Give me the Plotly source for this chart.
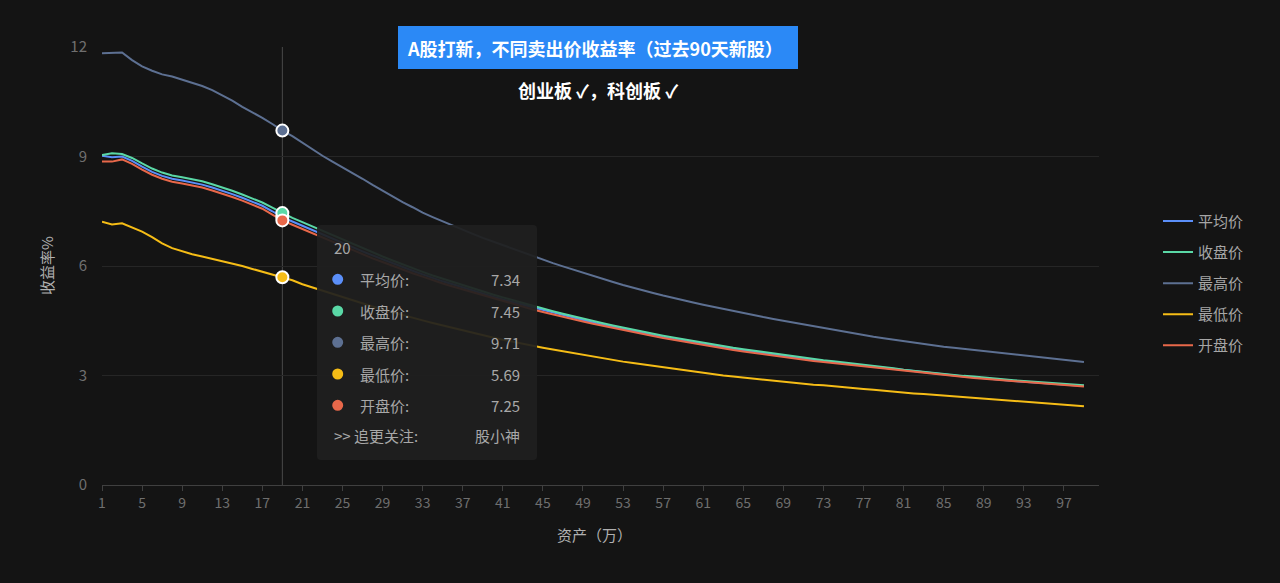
import plotly.graph_objects as go

# ---------------- data ----------------
assets = list(range(1, 100))  # 资产（万）categories 1..99

avg_price = [9.02, 8.98, 9.00, 8.88, 8.72, 8.58, 8.47, 8.39, 8.34, 8.29,
             8.23, 8.15, 8.07, 7.97, 7.87, 7.76, 7.65, 7.50, 7.34, 7.22,
             7.10, 6.98, 6.86, 6.75, 6.63, 6.51, 6.40, 6.29, 6.18, 6.07,
             5.96, 5.87, 5.77, 5.67, 5.58, 5.50, 5.41, 5.32, 5.24, 5.16,
             5.08, 5.01, 4.93, 4.85, 4.78, 4.71, 4.64, 4.58, 4.51, 4.45,
             4.39, 4.33, 4.27, 4.21, 4.15, 4.10, 4.05, 4.00, 3.95, 3.90,
             3.86, 3.81, 3.77, 3.73, 3.69, 3.65, 3.61, 3.57, 3.53, 3.49,
             3.45, 3.42, 3.39, 3.36, 3.33, 3.30, 3.27, 3.24, 3.21, 3.18,
             3.14, 3.11, 3.08, 3.05, 3.02, 3.00, 2.97, 2.95, 2.92, 2.90,
             2.87, 2.85, 2.83, 2.81, 2.79, 2.77, 2.75, 2.73, 2.71]

close_price = [9.04, 9.09, 9.07, 8.96, 8.81, 8.67, 8.56, 8.48, 8.43, 8.38,
               8.32, 8.24, 8.16, 8.06, 7.96, 7.85, 7.74, 7.60, 7.45, 7.32,
               7.20, 7.08, 6.96, 6.84, 6.72, 6.60, 6.48, 6.37, 6.26, 6.15,
               6.04, 5.94, 5.84, 5.74, 5.65, 5.56, 5.47, 5.38, 5.30, 5.22,
               5.14, 5.06, 4.98, 4.90, 4.83, 4.76, 4.69, 4.62, 4.55, 4.49,
               4.43, 4.37, 4.31, 4.25, 4.19, 4.14, 4.09, 4.04, 3.99, 3.94,
               3.89, 3.84, 3.80, 3.76, 3.72, 3.68, 3.64, 3.60, 3.56, 3.52,
               3.48, 3.45, 3.42, 3.39, 3.36, 3.33, 3.30, 3.27, 3.24, 3.20,
               3.16, 3.13, 3.10, 3.07, 3.04, 3.02, 2.99, 2.97, 2.94, 2.92,
               2.89, 2.87, 2.85, 2.83, 2.81, 2.79, 2.77, 2.75, 2.73]

high_price = [11.83, 11.85, 11.85, 11.64, 11.47, 11.35, 11.25, 11.19, 11.11, 11.03,
              10.93, 10.82, 10.68, 10.53, 10.36, 10.22, 10.06, 9.89, 9.71, 9.56,
              9.38, 9.19, 9.02, 8.86, 8.71, 8.55, 8.39, 8.22, 8.06, 7.90,
              7.75, 7.61, 7.46, 7.34, 7.22, 7.10, 6.99, 6.88, 6.77, 6.67,
              6.56, 6.46, 6.36, 6.26, 6.17, 6.08, 5.99, 5.90, 5.81, 5.72,
              5.64, 5.56, 5.48, 5.40, 5.33, 5.26, 5.19, 5.12, 5.06, 5.00,
              4.94, 4.88, 4.82, 4.76, 4.71, 4.65, 4.60, 4.55, 4.50, 4.45,
              4.40, 4.35, 4.29, 4.24, 4.19, 4.15, 4.11, 4.06, 4.02, 3.98,
              3.94, 3.89, 3.85, 3.82, 3.79, 3.76, 3.73, 3.70, 3.67, 3.64,
              3.61, 3.58, 3.55, 3.52, 3.49, 3.46, 3.43, 3.40, 3.37]

low_price = [7.21, 7.14, 7.17, 7.06, 6.94, 6.79, 6.62, 6.49, 6.40, 6.32,
             6.26, 6.20, 6.13, 6.07, 6.00, 5.92, 5.84, 5.76, 5.69, 5.61,
             5.50, 5.41, 5.32, 5.23, 5.14, 5.05, 4.97, 4.89, 4.81, 4.73,
             4.65, 4.58, 4.51, 4.44, 4.37, 4.30, 4.23, 4.16, 4.10, 4.04,
             3.98, 3.92, 3.86, 3.81, 3.76, 3.71, 3.66, 3.61, 3.56, 3.51,
             3.47, 3.42, 3.38, 3.34, 3.30, 3.26, 3.22, 3.18, 3.14, 3.10,
             3.06, 3.03, 3.00, 2.97, 2.94, 2.91, 2.88, 2.85, 2.83, 2.80,
             2.78, 2.75, 2.73, 2.70, 2.68, 2.65, 2.63, 2.61, 2.58, 2.56,
             2.53, 2.51, 2.49, 2.47, 2.45, 2.43, 2.41, 2.39, 2.37, 2.35,
             2.32, 2.30, 2.28, 2.26, 2.24, 2.22, 2.20, 2.18, 2.16]

open_price = [8.86, 8.86, 8.92, 8.80, 8.64, 8.50, 8.39, 8.31, 8.26, 8.21,
              8.15, 8.07, 7.99, 7.89, 7.79, 7.68, 7.57, 7.41, 7.25, 7.13,
              7.01, 6.90, 6.78, 6.67, 6.55, 6.44, 6.32, 6.21, 6.11, 6.00,
              5.90, 5.80, 5.71, 5.61, 5.52, 5.44, 5.36, 5.27, 5.19, 5.12,
              5.04, 4.97, 4.89, 4.81, 4.74, 4.67, 4.61, 4.54, 4.48, 4.42,
              4.36, 4.30, 4.24, 4.18, 4.13, 4.08, 4.03, 3.98, 3.93, 3.88,
              3.83, 3.79, 3.75, 3.70, 3.66, 3.62, 3.58, 3.54, 3.50, 3.47,
              3.43, 3.40, 3.37, 3.34, 3.31, 3.28, 3.25, 3.22, 3.19, 3.16,
              3.12, 3.09, 3.06, 3.03, 3.00, 2.98, 2.95, 2.93, 2.91, 2.89,
              2.86, 2.84, 2.82, 2.80, 2.78, 2.76, 2.74, 2.72, 2.70]

series_names = ["平均价", "收盘价", "最高价", "最低价", "开盘价"]
series_values = [avg_price, close_price, high_price, low_price, open_price]
series_colors = ["#5B8FF9", "#5AD8A6", "#5D7092", "#F6BD16", "#E8684A"]

x_tick_vals = [1, 5, 9, 13, 17, 21, 25, 29, 33, 37, 41, 45, 49, 53, 57,
               61, 65, 69, 73, 77, 81, 85, 89, 93, 97]
y_tick_vals = [0, 3, 6, 9, 12]

# hovered point (tooltip)
hover_x = 19
hover_label = "20"
hover_values = [7.34, 7.45, 9.71, 5.69, 7.25]
footer_label = ">> 追更关注:"
footer_value = "股小神"

title_text = "A股打新，不同卖出价收益率（过去90天新股）"
subtitle_text = "创业板 ✓，科创板 ✓"
x_title = "资产（万）"
y_title = "收益率%"

# ---------------- figure ----------------
FONT = "Noto Sans CJK SC, PingFang SC, sans-serif"
BG = "#141414"
W, H = 1280, 583
L, R, T, B = 102, 181, 47, 98
PW, PH = W - L - R, H - T - B


def px(xp):
    return (xp - L) / PW


def py(yp):
    return (H - B - yp) / PH


fig = go.Figure()

for i, (name, vals, col) in enumerate(zip(series_names, series_values, series_colors)):
    fig.add_trace(go.Scatter(
        x=assets, y=vals, name=name, mode="lines",
        line=dict(color=col, width=2),
        legendgroup=name,
    ))

for name, v, col in zip(series_names, hover_values, series_colors):
    fig.add_trace(go.Scatter(
        x=[hover_x], y=[v], mode="markers", showlegend=False,
        marker=dict(size=12, color=col, line=dict(color="white", width=2)),
        hoverinfo="skip",
    ))

shapes = []
# vertical crosshair
shapes.append(dict(type="line", xref="x", yref="paper", x0=hover_x, x1=hover_x,
                   y0=0, y1=1, line=dict(color="#4a4a4a", width=1), layer="below"))

# tooltip box (rounded)
tx0, tx1, ty0, ty1 = 317, 537, 225, 460
r = 4
rx, ry = r / PW, r / PH
X0, X1, Y0, Y1 = px(tx0), px(tx1), py(ty1), py(ty0)
path = (f"M{X0+rx},{Y1} L{X1-rx},{Y1} Q{X1},{Y1} {X1},{Y1-ry} "
        f"L{X1},{Y0+ry} Q{X1},{Y0} {X1-rx},{Y0} L{X0+rx},{Y0} "
        f"Q{X0},{Y0} {X0},{Y0+ry} L{X0},{Y1-ry} Q{X0},{Y1} {X0+rx},{Y1} Z")
shapes.append(dict(type="path", xref="paper", yref="paper", path=path,
                   fillcolor="rgba(31,31,31,0.93)", line=dict(width=0), layer="above"))

# title box
shapes.append(dict(type="rect", xref="paper", yref="paper",
                   x0=px(398), x1=px(798), y0=py(69), y1=py(26),
                   fillcolor="#2B89F6", line=dict(width=0), layer="above"))

annotations = []
annotations.append(dict(xref="paper", yref="paper", x=px(595), y=py(47.5),
                        text=f"<b>{title_text}</b>", showarrow=False,
                        font=dict(family=FONT, size=18, color="white"),
                        xanchor="center", yanchor="middle"))
annotations.append(dict(xref="paper", yref="paper", x=px(598), y=py(90),
                        text=f"<b>{subtitle_text}</b>", showarrow=False,
                        font=dict(family=FONT, size=18, color="white"),
                        xanchor="center", yanchor="middle"))
annotations.append(dict(xref="paper", yref="paper", x=px(46), y=0.5,
                        text=y_title, showarrow=False, textangle=-90,
                        font=dict(family=FONT, size=15, color="#b0b0b0"),
                        xanchor="center", yanchor="middle"))
annotations.append(dict(xref="paper", yref="paper", x=px(594), y=py(534),
                        text=x_title, showarrow=False,
                        font=dict(family=FONT, size=15, color="#b0b0b0"),
                        xanchor="center", yanchor="middle"))

# tooltip contents
tip_col = "#a8a8a8"
annotations.append(dict(xref="paper", yref="paper", x=px(332), y=py(248),
                        text=hover_label, showarrow=False,
                        font=dict(family=FONT, size=15, color=tip_col),
                        xanchor="left", yanchor="middle"))
row_y = [279.3, 311, 342.3, 374, 405.3]
for name, v, col, yy in zip(series_names, hover_values, series_colors, row_y):
    dr = 5.5
    shapes.append(dict(type="circle", xref="paper", yref="paper",
                       x0=px(337.7 - dr), x1=px(337.7 + dr),
                       y0=py(yy + dr), y1=py(yy - dr),
                       fillcolor=col, line=dict(width=0), layer="above"))
    annotations.append(dict(xref="paper", yref="paper", x=px(358), y=py(yy),
                            text=name + ":", showarrow=False,
                            font=dict(family=FONT, size=15, color=tip_col),
                            xanchor="left", yanchor="middle"))
    annotations.append(dict(xref="paper", yref="paper", x=px(522), y=py(yy),
                            text=f"{v:.2f}", showarrow=False,
                            font=dict(family=FONT, size=15, color=tip_col),
                            xanchor="right", yanchor="middle"))
annotations.append(dict(xref="paper", yref="paper", x=px(332), y=py(435.7),
                        text=footer_label, showarrow=False,
                        font=dict(family=FONT, size=15, color=tip_col),
                        xanchor="left", yanchor="middle"))
annotations.append(dict(xref="paper", yref="paper", x=px(522), y=py(435.7),
                        text=footer_value, showarrow=False,
                        font=dict(family=FONT, size=15, color=tip_col),
                        xanchor="right", yanchor="middle"))

fig.update_layout(
    width=W, height=H,
    margin=dict(l=L, r=R, t=T, b=B, pad=0),
    paper_bgcolor=BG, plot_bgcolor=BG,
    font=dict(family=FONT, color="#8c8c8c"),
    showlegend=True,
    legend=dict(x=px(1158), y=py(204.7), xanchor="left", yanchor="top",
                font=dict(family=FONT, size=15, color="#a6a6a6"),
                bgcolor="rgba(0,0,0,0)", traceorder="grouped",
                tracegroupgap=8.6, itemwidth=30),
    xaxis=dict(range=[1, 100.5], tickmode="array", tickvals=x_tick_vals,
               ticktext=[str(v) for v in x_tick_vals],
               showgrid=False, zeroline=False,
               showline=True, linecolor="#404040", linewidth=1,
               ticks="outside", ticklen=5, tickcolor="#404040", tickwidth=1,
               tickfont=dict(family=FONT, size=14, color="#6f6f6f")),
    yaxis=dict(range=[0, 12], tickmode="array", tickvals=y_tick_vals,
               showgrid=True, gridcolor="#262626", gridwidth=1,
               zeroline=False, showline=False, ticks="",
               ticklabelstandoff=14,
               tickfont=dict(family=FONT, size=15, color="#6f6f6f")),
    shapes=shapes,
    annotations=annotations,
    hovermode=False,
)

fig.write_html("out.html")
